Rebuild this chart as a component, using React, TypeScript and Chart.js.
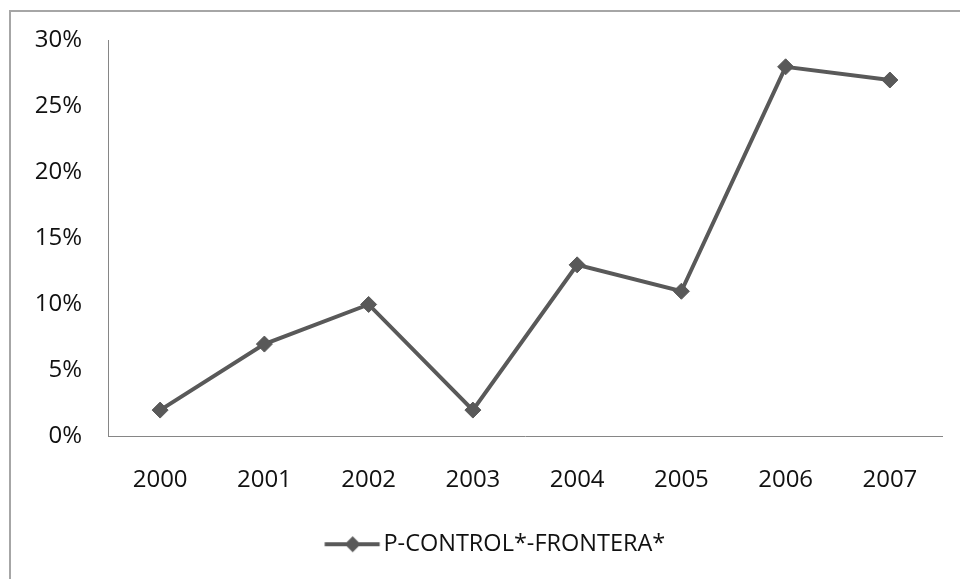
import React, { useEffect, useRef } from "react";
import { Chart, registerables } from "chart.js";

Chart.register(...registerables);

const years = ["2000", "2001", "2002", "2003", "2004", "2005", "2006", "2007"];
const values = [2, 7, 10, 2, 13, 11, 28, 27];
const seriesName = "P-CONTROL*-FRONTERA*";
const yMin = 0;
const yMax = 30;
const yStep = 5;

const LINE = "#595959";
const TEXT = "#111111";
const FONT = "'Open Sans', 'Liberation Sans', sans-serif";

function makeLegendIcon(): HTMLCanvasElement {
  const c = document.createElement("canvas");
  c.width = 100;
  c.height = 20;
  const ctx = c.getContext("2d")!;
  ctx.strokeStyle = LINE;
  ctx.lineWidth = 4;
  ctx.beginPath();
  ctx.moveTo(41.5, 10);
  ctx.lineTo(96.5, 10);
  ctx.stroke();
  ctx.fillStyle = LINE;
  ctx.beginPath();
  const cx = 69.5;
  ctx.moveTo(cx - 8, 10);
  ctx.lineTo(cx, 2);
  ctx.lineTo(cx + 8, 10);
  ctx.lineTo(cx, 18);
  ctx.closePath();
  ctx.fill();
  return c;
}

const frameBorder = {
  id: "frameBorder",
  beforeDraw(chart: any) {
    const ctx = chart.ctx;
    ctx.save();
    ctx.fillStyle = "#ffffff";
    ctx.fillRect(0, 0, chart.width, chart.height);
    ctx.strokeStyle = "#a6a6a6";
    ctx.lineWidth = 2;
    ctx.beginPath();
    ctx.moveTo(10, chart.height + 5);
    ctx.lineTo(10, 11);
    ctx.lineTo(chart.width + 5, 11);
    ctx.stroke();
    ctx.restore();
  },
};

export default function App() {
  const ref = useRef<HTMLCanvasElement | null>(null);

  useEffect(() => {
    if (!ref.current) return;
    const icon = makeLegendIcon();
    const chart = new Chart(ref.current, {
      type: "line",
      data: {
        labels: years,
        datasets: [
          {
            label: seriesName,
            data: values,
            borderColor: LINE,
            backgroundColor: LINE,
            borderWidth: 4,
            pointStyle: "rectRot",
            pointRadius: 8,
            pointBorderWidth: 1,
            pointBackgroundColor: LINE,
            pointBorderColor: LINE,
            tension: 0,
          },
        ],
      },
      options: {
        animation: false,
        responsive: false,
        layout: { padding: { left: 18, right: 18, top: 38, bottom: 13 } },
        scales: {
          x: {
            offset: true,
            grid: { display: false, drawTicks: false },
            border: { display: true, color: "#868686", width: 1 },
            ticks: { color: TEXT, font: { family: FONT, size: 24 }, padding: 29 },
            afterFit: (s: any) => {
              s.height = 86;
            },
          },
          y: {
            min: yMin,
            max: yMax,
            grid: { display: false, drawTicks: false },
            border: { display: true, color: "#868686", width: 1 },
            ticks: {
              stepSize: yStep,
              color: TEXT,
              font: { family: FONT, size: 24 },
              padding: 26,
              callback: (v: any) => v + "%",
            },
            afterFit: (s: any) => {
              s.width = 90;
            },
          },
        },
        plugins: {
          tooltip: { enabled: false },
          legend: {
            position: "bottom",
            labels: {
              usePointStyle: true,
              pointStyleWidth: 77,
              color: TEXT,
              font: { family: FONT, size: 23.5 },
              padding: 10,
              generateLabels: () => [
                {
                  text: seriesName,
                  pointStyle: icon as any,
                  fillStyle: LINE,
                  strokeStyle: LINE,
                  lineWidth: 0,
                  hidden: false,
                  datasetIndex: 0,
                  fontColor: TEXT,
                } as any,
              ],
            },
          },
        },
      },
      plugins: [frameBorder],
    });
    return () => chart.destroy();
  }, []);

  return (
    <div style={{ position: "fixed", left: 0, top: 0, width: 960, height: 579, background: "#fff" }}>
      <canvas ref={ref} width={960} height={579} style={{ display: "block", width: 960, height: 579 }} />
    </div>
  );
}
